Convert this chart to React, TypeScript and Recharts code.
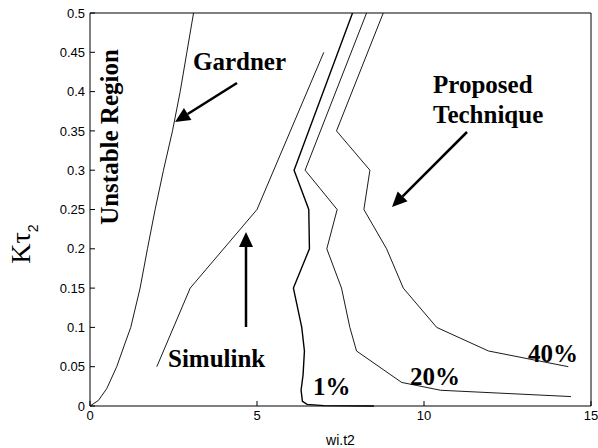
import { LineChart, Line, XAxis, YAxis } from "recharts";

// curves, [wi.t2, K.tau2]
const gardner = [
  [0, 0], [0.25, 0.007], [0.5, 0.022], [0.8, 0.05], [1.05, 0.08], [1.22, 0.1],
  [1.5, 0.15], [1.72, 0.2], [1.95, 0.25], [2.2, 0.3], [2.47, 0.35], [2.7, 0.4],
  [2.9, 0.45], [3.1, 0.5],
];
const simulink = [[2.0, 0.05], [3.0, 0.15], [5.0, 0.25], [7.0, 0.45]];
const pct1 = [
  [7.86, 0.5], [6.11, 0.3], [6.55, 0.25], [6.57, 0.2], [6.09, 0.15], [6.34, 0.1],
  [6.42, 0.07], [6.38, 0.04], [6.32, 0.02], [6.36, 0.006], [6.5, 0.002],
  [7.0, 0.0005], [8.5, 0],
];
const pct20 = [
  [8.28, 0.5], [6.44, 0.3], [7.4, 0.25], [7.09, 0.2], [7.53, 0.15], [7.78, 0.1],
  [7.98, 0.07], [9.33, 0.03], [10.5, 0.02], [14.4, 0.012],
];
const pct40 = [
  [8.78, 0.5], [7.38, 0.35], [8.38, 0.3], [8.2, 0.25], [8.88, 0.2], [9.38, 0.15],
  [10.38, 0.1], [11.93, 0.07], [14.32, 0.05],
];

const xTicks = [0, 5, 10, 15];
const yTicks = [0, 0.05, 0.1, 0.15, 0.2, 0.25, 0.3, 0.35, 0.4, 0.45, 0.5];

const toPts = (arr: number[][]) => arr.map(([x, y]) => ({ x, y }));

const SANS = "'Liberation Sans', Arial, sans-serif";
const SERIF = "'Liberation Serif', 'Times New Roman', serif";

const tickStyle = { fontSize: 13, fill: "#000", fontFamily: SANS };
const noTick = () => <text />;
const serifBold = { fontFamily: SERIF, fontWeight: 700, fontSize: 25 };

const Arrow = ({ x1, y1, x2, y2 }: { x1: number; y1: number; x2: number; y2: number }) => {
  const a = Math.atan2(y2 - y1, x2 - x1);
  const len = 15, half = 7;
  const bx = x2 - len * Math.cos(a), by = y2 - len * Math.sin(a);
  const px = -Math.sin(a) * half, py = Math.cos(a) * half;
  return (
    <g>
      <line x1={x1} y1={y1} x2={bx} y2={by} stroke="#000" strokeWidth={2.5} />
      <polygon points={`${x2},${y2} ${bx + px},${by + py} ${bx - px},${by - py}`} fill="#000" />
    </g>
  );
};

const Label = ({ x, y, rot, children }: { x: number; y: number; rot?: boolean; children: string }) => (
  <text
    x={x} y={y} fill="#000"
    textAnchor={rot ? "middle" : "start"}
    transform={rot ? `rotate(-90, ${x}, ${y})` : undefined}
    style={serifBold}
  >
    {children}
  </text>
);

const YLabel = () => (
  <text transform="rotate(-90, 30, 244)" x={30} y={244} textAnchor="middle" fill="#000">
    <tspan style={{ fontFamily: SERIF, fontSize: 28 }}>Kτ</tspan>
    <tspan style={{ fontFamily: SANS, fontSize: 14 }} dy={8}>2</tspan>
  </text>
);

const App = () => {
  const series = [
    { key: "gardner", data: toPts(gardner), w: 0.9 },
    { key: "simulink", data: toPts(simulink), w: 0.9 },
    { key: "pct1", data: toPts(pct1), w: 1.4 },
    { key: "pct20", data: toPts(pct20), w: 0.9 },
    { key: "pct40", data: toPts(pct40), w: 0.9 },
  ];

  return (
    <div style={{ position: "absolute", left: 0, top: 0, width: 598, height: 448, background: "#fff" }}>
      <LineChart width={598} height={448} margin={{ top: 0, right: 0, bottom: 0, left: 0 }}>
        <XAxis
          dataKey="x" type="number" domain={[0, 15]} ticks={xTicks} height={42}
          tickSize={-5} tickMargin={10} tick={tickStyle}
          axisLine={{ stroke: "#000" }} tickLine={{ stroke: "#000" }}
          label={{ value: "wi.t2", position: "insideBottom", offset: 3, fontSize: 14, fill: "#000", fontFamily: SANS }}
        />
        <XAxis
          xAxisId="top" orientation="top" type="number" domain={[0, 15]} ticks={xTicks} height={13}
          tickSize={-5} tick={noTick} axisLine={{ stroke: "#000" }} tickLine={{ stroke: "#000" }}
        />
        <YAxis
          type="number" domain={[0, 0.5]} ticks={yTicks} width={90}
          tickSize={-5} tickMargin={10} tick={tickStyle}
          tickFormatter={(v: number) => String(+v.toFixed(2))}
          axisLine={{ stroke: "#000" }} tickLine={{ stroke: "#000" }}
        />
        <YAxis
          yAxisId="right" orientation="right" type="number" domain={[0, 0.5]} ticks={yTicks} width={7}
          tickSize={-5} tick={noTick} axisLine={{ stroke: "#000" }} tickLine={{ stroke: "#000" }}
        />
        {series.map(s => (
          <Line
            key={s.key} data={s.data} dataKey="y" type="linear" stroke="#000" strokeWidth={s.w}
            dot={false} activeDot={false} isAnimationActive={false}
          />
        ))}
      </LineChart>

      <svg width={598} height={448} style={{ position: "absolute", left: 0, top: 0, pointerEvents: "none" }}>
        <YLabel />
        <Label x={193} y={70}>Gardner</Label>
        <Arrow x1={237} y1={83} x2={175} y2={122} />
        <Label x={118} y={137} rot>Unstable Region</Label>
        <Label x={168} y={367}>Simulink</Label>
        <Arrow x1={246} y1={327} x2={246} y2={232} />
        <Label x={433} y={93}>Proposed</Label>
        <Label x={433} y={123}>Technique</Label>
        <Arrow x1={467} y1={132} x2={392} y2={207} />
        <Label x={313} y={395}>1%</Label>
        <Label x={410} y={385}>20%</Label>
        <Label x={528} y={362}>40%</Label>
      </svg>
    </div>
  );
};

export default App;
